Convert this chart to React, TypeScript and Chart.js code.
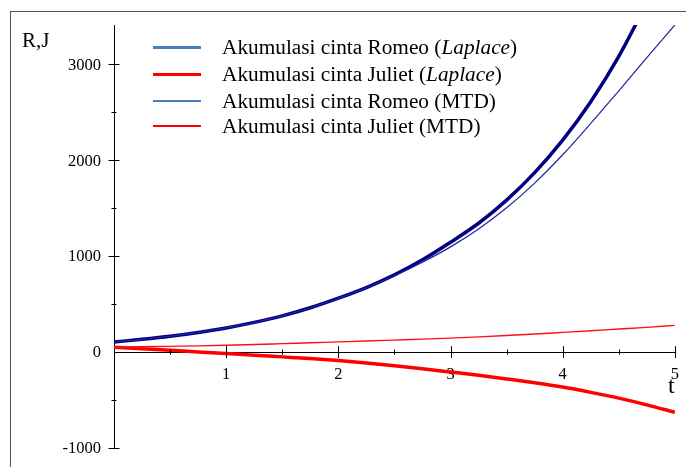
import React, { useEffect, useRef } from "react";
import { Chart, registerables } from "chart.js";

Chart.register(...registerables);

const tValues = [0, 0.25, 0.5, 0.75, 1, 1.25, 1.5, 1.75, 2, 2.25, 2.5, 2.75, 3, 3.25, 3.5, 3.75, 4, 4.25, 4.5, 4.75, 5];
const romeoLaplace = [105, 133, 165, 205, 252, 310, 378, 462, 562, 673, 805, 962, 1145, 1343, 1584, 1871, 2210, 2610, 3083, 3640];
const julietLaplace = [50, 34, 18, 2, -15, -32, -50, -68, -88, -113, -142, -174, -208, -242, -280, -320, -365, -420, -480, -550, -628];
const romeoMTD = [105, 133, 165, 205, 252, 310, 378, 462, 561, 670, 795, 937, 1097, 1284, 1504, 1762, 2057, 2384, 2724, 3069, 3411];
const julietMTD = [50, 55, 60, 65, 71, 79, 88, 97, 106, 115, 125, 135, 146, 159, 173, 188, 205, 222, 240, 258, 278];

const yTickLabels = [-1000, 0, 1000, 2000, 3000];
const xTickLabels = [1, 2, 3, 4, 5];

const legendItems = [
  { pre: "Akumulasi cinta Romeo (", it: "Laplace", post: ")", color: "#4a7ebb", w: 3 },
  { pre: "Akumulasi cinta Juliet (", it: "Laplace", post: ")", color: "#ff0000", w: 3 },
  { pre: "Akumulasi cinta Romeo (MTD)", it: "", post: "", color: "#4a7ebb", w: 2 },
  { pre: "Akumulasi cinta Juliet (MTD)", it: "", post: "", color: "#ff0000", w: 2 },
];

const SERIF = "'Liberation Serif', 'Times New Roman', serif";
const CANVAS_W = 692;

const toPts = (vals: number[]) => vals.map((v, i) => ({ x: tValues[i], y: v }));

const crossTicks = {
  id: "crossTicks",
  afterDraw(chart: any) {
    const { ctx, scales } = chart;
    const xs = scales.x;
    const ys = scales.y;
    const x0 = xs.getPixelForValue(0);
    const y0 = ys.getPixelForValue(0);
    ctx.save();
    ctx.strokeStyle = "#000";
    ctx.lineWidth = 1;
    ctx.beginPath();
    for (let v = 0.5; v <= 5.001; v += 0.5) {
      const px = Math.round(xs.getPixelForValue(v)) + 0.5;
      const len = Number.isInteger(v) ? 6 : 2.5;
      ctx.moveTo(px, y0 - len);
      ctx.lineTo(px, y0 + len);
    }
    for (let v = -1000; v <= 3000; v += 500) {
      if (v === 0) continue;
      const py = Math.round(ys.getPixelForValue(v)) + 0.5;
      const len = v % 1000 === 0 ? 5.5 : 2.5;
      ctx.moveTo(x0 - len, py);
      ctx.lineTo(x0 + len, py);
    }
    ctx.stroke();
    ctx.fillStyle = "#000";
    ctx.font = "16.5px " + SERIF;
    ctx.textAlign = "right";
    ctx.textBaseline = "middle";
    for (const v of yTickLabels) {
      ctx.fillText(String(v), x0 - 13, ys.getPixelForValue(v) + 1);
    }
    ctx.restore();
  },
};

export default function App() {
  const ref = useRef<HTMLCanvasElement>(null);
  useEffect(() => {
    if (!ref.current) return;
    const font = { family: SERIF, size: 16.5 };
    const chart = new Chart(ref.current, {
      type: "line",
      data: {
        datasets: [
          { data: toPts(julietMTD), borderColor: "#ff1010", borderWidth: 1.4, pointRadius: 0, cubicInterpolationMode: "monotone" },
          { data: toPts(julietLaplace), borderColor: "#ff0000", borderWidth: 3.5, pointRadius: 0, cubicInterpolationMode: "monotone" },
          { data: toPts(romeoMTD), borderColor: "#2222a0", borderWidth: 1.2, pointRadius: 0, cubicInterpolationMode: "monotone" },
          { data: toPts(romeoLaplace), borderColor: "#000080", borderWidth: 3.5, pointRadius: 0, cubicInterpolationMode: "monotone" },
        ],
      },
      options: {
        animation: false,
        responsive: false,
        maintainAspectRatio: false,
        layout: { padding: { left: 114, right: 6, top: 25, bottom: 19 } },
        plugins: { legend: { display: false }, tooltip: { enabled: false } },
        scales: {
          x: {
            type: "linear",
            min: 0,
            max: 5,
            position: { y: 0 } as any,
            ticks: {
              stepSize: 1,
              autoSkip: false,
              maxRotation: 0,
              color: "#000",
              font,
              padding: 13,
              callback: (v: any) => (xTickLabels.includes(Number(v)) ? String(v) : ""),
            },
            grid: { drawOnChartArea: false, drawTicks: false, color: "#000" },
            border: { color: "#000", width: 1 },
          },
          y: {
            type: "linear",
            min: -1000,
            max: 3410,
            position: { x: 0 } as any,
            ticks: { display: false },
            afterBuildTicks: (s: any) => {
              s.ticks = yTickLabels.map((v) => ({ value: v }));
            },
            grid: { drawOnChartArea: false, drawTicks: false, color: "#000" },
            border: { color: "#000", width: 1 },
          },
        },
      },
      plugins: [crossTicks],
    } as any);
    return () => chart.destroy();
  }, []);

  return (
    <div style={{ position: "fixed", left: 0, top: 0, width: 686, height: 467, background: "#fff", overflow: "hidden" }}>
      <div style={{ position: "absolute", left: 10, top: 11, right: -5, bottom: -5, borderTop: "1.5px solid #555", borderLeft: "1.5px solid #555" }} />
      <canvas ref={ref} width={CANVAS_W} height={467} style={{ position: "absolute", left: 0, top: 0, width: CANVAS_W, height: 467 }} />
      <div style={{ position: "absolute", left: 22, top: 28, fontFamily: SERIF, fontSize: 21, color: "#000" }}>R,J</div>
      <div style={{ position: "absolute", left: 668, top: 372, fontFamily: SERIF, fontSize: 24, color: "#000" }}>t</div>
      {legendItems.map((it, i) => {
        const tops = [47, 74, 101, 126];
        return (
          <div key={i} style={{ position: "absolute", left: 153, top: tops[i] - 12, height: 24, display: "flex", alignItems: "center", fontFamily: SERIF, fontSize: 21.3, color: "#000", whiteSpace: "nowrap" }}>
            <span style={{ display: "inline-block", width: 48, height: it.w, background: it.color, marginRight: 21 }} />
            <span>
              {it.pre}
              {it.it ? <i>{it.it}</i> : null}
              {it.post}
            </span>
          </div>
        );
      })}
    </div>
  );
}
